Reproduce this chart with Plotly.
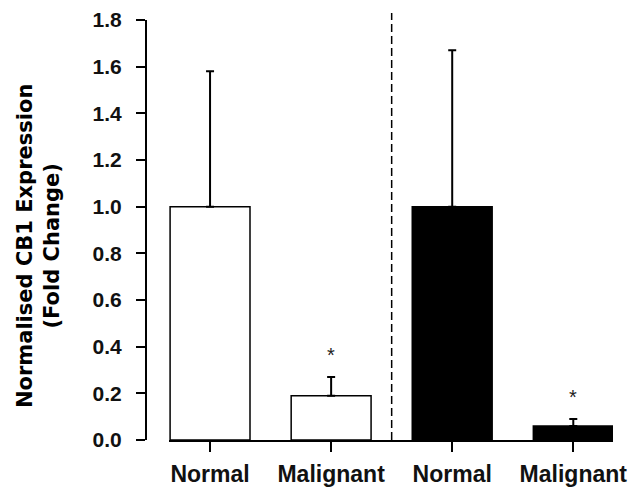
import plotly.graph_objects as go

# Data
categories = ["Normal", "Malignant", "Normal", "Malignant"]
positions = [0, 1, 2, 3]
means = [1.0, 0.19, 1.0, 0.06]
errors = [0.58, 0.08, 0.67, 0.03]
bar_colors = ["white", "white", "black", "black"]
significant = [False, True, False, True]
y_ticks = [0.0, 0.2, 0.4, 0.6, 0.8, 1.0, 1.2, 1.4, 1.6, 1.8]
y_ticktext = ["0.0", "0.2", "0.4", "0.6", "0.8", "1.0", "1.2", "1.4", "1.6", "1.8"]
divider_x = 1.5

# the page body has an 8px default margin, so the figure is slightly smaller than the window
W, H = 633, 480
ML, MR, MT, MB = 138, 28, 12, 48
plot_w = W - ML - MR
plot_h = H - MT - MB
x_domain = [23 / plot_w, 1]
x_range = [-0.339, 3.328]

fig = go.Figure()
fig.add_trace(go.Bar(
    x=positions, y=means, width=0.66,
    marker=dict(color=bar_colors, line=dict(color="black", width=1.5)),
    error_y=dict(type="data", symmetric=False, array=errors,
                 arrayminus=[0] * len(errors), color="black",
                 thickness=2, width=4),
    showlegend=False,
))

for p, m, e, s in zip(positions, means, errors, significant):
    if s:
        fig.add_annotation(x=p, y=m + e, text="*", showarrow=False,
                           yanchor="middle", yshift=22,
                           font=dict(family="Liberation Sans, Arial", size=20, color="#222"))

# vertical dashed divider (paper coords derived from the x scale so it can extend above the plot)
div_px = x_domain[0] + (divider_x - x_range[0]) / (x_range[1] - x_range[0]) * (x_domain[1] - x_domain[0])
fig.add_shape(type="line", xref="paper", yref="paper", x0=div_px, x1=div_px,
              y0=0, y1=1 + 7 / plot_h, line=dict(color="black", width=1.5, dash="8px,4px"))

fig.add_annotation(xref="paper", yref="paper",
                   x=(30 - ML) / plot_w, y=(432 - 238) / plot_h,
                   text="Normalised CB1 Expression<br>(Fold Change)",
                   textangle=-90, showarrow=False, xanchor="center", yanchor="middle",
                   font=dict(family="DejaVu Sans", size=21, weight="bold", color="black"))

fig.update_layout(
    width=W, height=H,
    margin=dict(l=ML, r=MR, t=MT, b=MB, pad=0, autoexpand=False),
    paper_bgcolor="white", plot_bgcolor="white",
    xaxis=dict(domain=x_domain, range=x_range, automargin=False,
               tickvals=positions, ticktext=categories,
               showline=True, linecolor="black", linewidth=2,
               ticks="outside", ticklen=10, tickwidth=2, tickcolor="black",
               showgrid=False, zeroline=False, ticklabelstandoff=2,
               tickfont=dict(family="Liberation Sans, Arial", size=23, weight="bold", color="#111")),
    yaxis=dict(anchor="free", position=0, range=[0, 1.8], automargin=False,
               tickvals=y_ticks, ticktext=y_ticktext,
               showline=True, linecolor="black", linewidth=2,
               ticks="outside", ticklen=9, tickwidth=2, tickcolor="black",
               showgrid=False, zeroline=False, ticklabelstandoff=10,
               tickfont=dict(family="Liberation Sans, Arial", size=21, weight="bold", color="#111")),
)

fig.write_html("out.html")
